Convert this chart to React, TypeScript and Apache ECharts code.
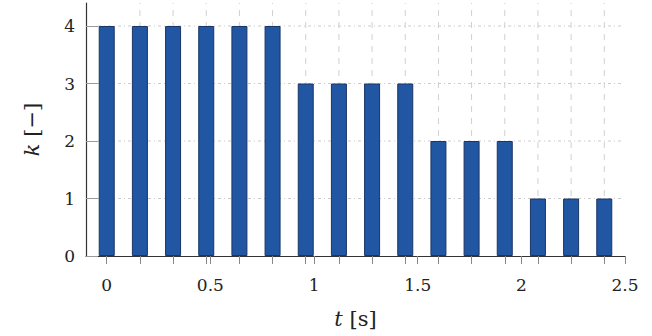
import React, { useEffect, useRef } from "react";
import * as echarts from "echarts";

const times = [0, 0.16, 0.32, 0.48, 0.64, 0.8, 0.96, 1.12, 1.28, 1.44, 1.6, 1.76, 1.92, 2.08, 2.24, 2.4];
const kValues = [4, 4, 4, 4, 4, 4, 3, 3, 3, 3, 2, 2, 2, 1, 1, 1];
const xLabelValues = [0, 0.5, 1, 1.5, 2, 2.5];
const yTicks = [0, 1, 2, 3, 4];

export default function App() {
  const ref = useRef<HTMLDivElement>(null);
  useEffect(() => {
    const chart = echarts.init(ref.current!, null, { renderer: "svg" });
    const font = "DejaVu Serif";
    const tickVals = Array.from(new Set([...times, ...xLabelValues])).sort((a, b) => a - b);
    chart.setOption({
      animation: false,
      textStyle: { fontFamily: font },
      grid: { left: 86, right: 27, top: 3, bottom: 80 },
      xAxis: {
        type: "value",
        min: -0.1,
        max: 2.5,
        name: "{i|t} {n|[s]}",
        nameLocation: "middle",
        nameGap: 52,
        nameTextStyle: {
          fontFamily: font,
          fontSize: 21,
          color: "#222",
          rich: {
            i: { fontFamily: font, fontStyle: "italic", fontSize: 21, color: "#222" },
            n: { fontFamily: font, fontSize: 21, color: "#222" },
          },
        },
        axisLine: { show: true, onZero: false, lineStyle: { color: "#333", width: 1.2 } },
        axisTick: { show: true, customValues: tickVals, length: 8, lineStyle: { color: "#888" } },
        axisLabel: {
          customValues: xLabelValues,
          formatter: (v: number) => String(v),
          fontFamily: font,
          fontSize: 17,
          color: "#222",
          margin: 20,
        },
        splitLine: { show: false },
      },
      yAxis: {
        type: "value",
        min: 0,
        max: 4.4,
        name: "{i|k} {n|[\u2212]}",
        nameLocation: "middle",
        nameGap: 44,
        nameRotate: 90,
        nameTextStyle: {
          fontFamily: font,
          fontSize: 21,
          color: "#222",
          rich: {
            i: { fontFamily: font, fontStyle: "italic", fontSize: 21, color: "#222" },
            n: { fontFamily: font, fontSize: 21, color: "#222" },
          },
        },
        axisLine: { show: true, onZero: false, lineStyle: { color: "#333", width: 1.2 } },
        axisTick: { show: true, inside: true, customValues: yTicks, length: 12, lineStyle: { color: "#999" } },
        axisLabel: {
          customValues: yTicks,
          fontFamily: font,
          fontSize: 17,
          color: "#222",
          margin: 11,
        },
        splitLine: { show: false },
      },
      series: [
        {
          type: "custom",
          z: 1,
          silent: true,
          data: times.filter((t) => t > 0).map((t) => [t]),
          renderItem: (params: any, api: any) => {
            const x = api.value(0);
            const p0 = api.coord([x, 0]);
            const p1 = api.coord([x, 4.4]);
            return {
              type: "line",
              shape: { x1: p0[0], y1: p0[1], x2: p1[0], y2: p1[1] },
              style: { stroke: "#d0d0d0", lineWidth: 1, lineDash: [6, 6] },
            };
          },
        },
        {
          type: "custom",
          z: 1,
          silent: true,
          data: yTicks.filter((v) => v > 0).map((v) => [v]),
          renderItem: (params: any, api: any) => {
            const y = api.value(0);
            const p0 = api.coord([-0.1, y]);
            const p1 = api.coord([2.49, y]);
            return {
              type: "line",
              shape: { x1: p0[0] + 12, y1: p0[1], x2: p1[0], y2: p1[1] },
              style: { stroke: "#cccccc", lineWidth: 1, lineDash: [3, 3, 1, 3] },
            };
          },
        },
        {
          type: "bar",
          z: 3,
          barWidth: 16,
          data: times.map((t, i) => [t, kValues[i]]),
          itemStyle: { color: "#2156a3", borderColor: "#1a3566", borderWidth: 1 },
        },
      ],
    });
    return () => chart.dispose();
  }, []);
  return <div ref={ref} style={{ position: "absolute", left: 0, top: 0, width: 652, height: 336 }} />;
}
